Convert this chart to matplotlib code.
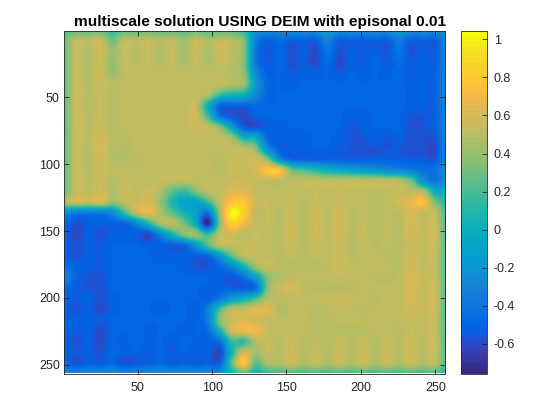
import numpy as np
import matplotlib
matplotlib.use('Agg')
import matplotlib.pyplot as plt
from matplotlib.colors import ListedColormap

plt.rcParams['font.family'] = ['Liberation Sans', 'DejaVu Sans']

titulo = 'multiscale solution USING DEIM with episonal 0.01'
ticks_eixos = [50, 100, 150, 200, 250]
ticks_barra = [-0.6, -0.4, -0.2, 0, 0.2, 0.4, 0.6, 0.8, 1]
ticks_barra_txt = ['-0.6', '-0.4', '-0.2', '0', '0.2', '0.4', '0.6', '0.8', '1']
vmin = -0.756
vmax = 1.044

# posicoes das amostras, de 8 em 8
xs = np.arange(1, 258, 8)
ys = np.arange(1, 258, 8)

# valores, em centesimos
solucao = np.array([
    [25,28,28,28,18,28,28,28,28,28,28,28,28,28,25,15,-22,-27,-27,-27,-27,-27,-15,-27,-27,-27,-27,-27,-15,-27,-27,-27,-27],
    [30,54,50,58,30,52,50,56,48,54,42,56,46,54,50,35,-35,-52,-47,-54,-52,-54,-35,-54,-52,-54,-52,-54,-38,-54,-52,-54,-30],
    [30,54,47,58,42,54,48,54,46,54,42,56,46,56,50,35,-38,-56,-48,-58,-52,-60,-42,-56,-52,-54,-52,-56,-42,-56,-52,-54,-30],
    [30,54,47,56,38,54,50,54,48,54,46,54,46,54,50,35,-38,-54,-48,-58,-54,-60,-47,-60,-52,-54,-48,-54,-46,-54,-52,-54,-30],
    [30,54,48,56,42,52,52,52,52,52,52,52,52,52,47,38,-25,-52,-50,-54,-52,-52,-50,-54,-50,-52,-50,-52,-48,-54,-50,-52,-30],
    [30,54,48,56,50,52,52,52,52,52,52,52,52,52,46,40,-15,-48,-50,-52,-50,-50,-50,-50,-50,-50,-50,-50,-48,-52,-52,-52,-30],
    [30,54,50,54,50,52,52,52,52,52,52,52,47,15,5,0,-28,-50,-50,-50,-50,-50,-50,-50,-50,-50,-50,-50,-48,-52,-52,-52,-30],
    [30,54,48,54,50,52,52,52,52,52,52,54,0,-47,-50,-50,-47,-50,-50,-50,-50,-50,-50,-50,-50,-50,-50,-50,-48,-52,-52,-52,-30],
    [30,54,50,54,50,52,52,52,52,54,54,58,20,-37,-54,-60,-52,-50,-50,-50,-50,-50,-50,-50,-52,-52,-50,-50,-50,-56,-56,-52,-30],
    [30,54,50,56,48,52,52,52,52,52,52,56,52,35,-10,-52,-58,-52,-52,-50,-50,-50,-50,-50,-56,-52,-50,-50,-50,-58,-56,-52,-30],
    [28,54,50,58,50,50,52,52,52,52,52,54,52,52,42,5,0,-47,-52,-52,-52,-50,-50,-52,-56,-56,-52,-56,-52,-58,-58,-56,-30],
    [28,54,50,60,50,48,52,52,52,52,52,52,52,52,54,52,35,-27,-52,-52,-52,-50,-50,-54,-56,-56,-56,-56,-56,-58,-58,-60,-30],
    [28,54,48,58,48,48,50,52,52,52,52,52,52,50,54,54,58,35,-25,-47,-50,-50,-50,-50,-52,-52,-52,-52,-52,-54,-54,-56,-30],
    [28,54,50,56,52,52,52,52,52,52,52,52,52,50,56,54,60,78,75,30,20,10,0,-5,-10,-15,-20,-25,-30,-35,-42,-42,-25],
    [28,54,50,56,48,54,52,52,54,52,52,52,52,52,56,58,54,54,52,50,52,52,50,52,52,52,52,50,47,30,-20,-42,-25],
    [30,54,52,58,47,56,52,58,47,25,15,35,52,54,64,64,54,52,52,54,52,54,52,54,52,52,50,52,54,52,47,0,0],
    [47,56,52,58,40,52,56,60,42,10,-8,-8,15,52,78,78,58,54,52,54,50,54,52,54,52,52,50,52,58,66,76,35,10],
    [-25,-37,-37,-37,-25,15,52,66,47,25,5,-10,-40,42,102,85,52,54,50,56,48,58,50,58,50,52,48,52,50,60,54,52,20],
    [-47,-58,-52,-52,-52,-50,-30,5,42,52,30,-5,-74,35,85,70,54,54,50,58,48,58,50,58,50,54,48,52,50,60,54,56,20],
    [-52,-60,-52,-58,-52,-52,-52,-60,-30,5,35,42,15,52,58,52,54,52,50,58,48,58,52,58,50,54,48,52,50,58,52,58,20],
    [-52,-58,-52,-54,-50,-50,-50,-52,-52,-52,-47,-15,25,50,52,54,54,52,50,56,48,56,52,56,50,54,50,52,50,54,52,56,22],
    [-52,-58,-52,-54,-50,-50,-50,-50,-52,-52,-52,-52,-47,-15,25,52,52,52,50,52,50,52,52,56,50,52,52,50,50,58,52,54,22],
    [-42,-52,-52,-54,-50,-50,-50,-50,-50,-50,-52,-56,-56,-47,-30,5,42,54,50,50,50,50,52,56,52,52,52,52,50,58,52,52,22],
    [-30,-52,-56,-58,-50,-50,-50,-50,-50,-50,-50,-50,-50,-52,-56,-42,-10,35,47,52,52,52,52,54,52,52,50,50,52,60,56,54,22],
    [-47,-54,-56,-58,-50,-50,-50,-50,-50,-50,-50,-50,-52,-52,-52,-52,-45,35,54,60,52,50,50,50,50,52,52,52,52,60,54,56,22],
    [-50,-54,-50,-58,-52,-50,-50,-50,-50,-50,-50,-50,-52,-37,-15,0,20,47,50,52,52,52,54,56,54,52,50,52,52,60,54,56,22],
    [-52,-58,-52,-60,-52,-50,-50,-50,-52,-50,-50,-52,-35,20,52,52,64,64,47,52,52,50,52,54,52,50,52,52,52,58,54,56,22],
    [-50,-52,-50,-54,-50,-50,-50,-50,-50,-50,-50,-52,-35,35,54,62,58,54,52,52,52,50,50,52,52,52,52,52,52,54,52,54,22],
    [-50,-54,-52,-60,-50,-50,-48,-52,-50,-50,-52,-50,-45,5,58,68,70,54,52,52,52,50,50,50,50,50,52,52,50,54,52,54,22],
    [-52,-58,-52,-60,-50,-52,-48,-52,-50,-54,-48,-52,-52,-42,15,15,47,54,50,56,50,52,48,54,50,54,48,54,50,56,50,56,22],
    [-50,-54,-52,-58,-48,-52,-50,-54,-48,-54,-50,-54,-50,-60,5,58,42,54,48,58,48,54,48,56,48,56,48,56,48,58,48,54,22],
    [-50,-58,-50,-54,-48,-58,-54,-52,-48,-54,-52,-54,-52,-52,25,78,25,47,46,56,46,54,46,54,46,56,46,54,46,56,46,52,20],
    [-28,-30,-28,-28,-25,-30,-28,-28,-25,-28,-25,-28,-25,-25,5,25,5,15,20,22,20,22,20,22,20,22,20,22,20,22,20,22,12],
]) / 100.0

# parula
parula = ListedColormap([
    [0.2081,0.1663,0.5292],[0.2116,0.1898,0.5777],[0.2123,0.2138,0.6270],[0.2081,0.2386,0.6771],
    [0.1959,0.2645,0.7279],[0.1707,0.2919,0.7792],[0.1253,0.3242,0.8303],[0.0591,0.3598,0.8683],
    [0.0117,0.3875,0.8820],[0.0060,0.4086,0.8828],[0.0165,0.4266,0.8786],[0.0329,0.4430,0.8720],
    [0.0498,0.4586,0.8641],[0.0629,0.4737,0.8554],[0.0723,0.4887,0.8467],[0.0779,0.5040,0.8384],
    [0.0793,0.5200,0.8312],[0.0749,0.5375,0.8263],[0.0641,0.5570,0.8240],[0.0488,0.5772,0.8228],
    [0.0343,0.5966,0.8199],[0.0265,0.6137,0.8135],[0.0239,0.6287,0.8038],[0.0231,0.6418,0.7913],
    [0.0228,0.6535,0.7768],[0.0267,0.6642,0.7607],[0.0384,0.6743,0.7436],[0.0590,0.6838,0.7254],
    [0.0843,0.6928,0.7062],[0.1133,0.7015,0.6859],[0.1453,0.7098,0.6646],[0.1801,0.7177,0.6424],
    [0.2178,0.7250,0.6193],[0.2586,0.7317,0.5954],[0.3022,0.7376,0.5712],[0.3482,0.7424,0.5473],
    [0.3953,0.7459,0.5244],[0.4420,0.7481,0.5033],[0.4871,0.7491,0.4840],[0.5300,0.7491,0.4661],
    [0.5709,0.7485,0.4494],[0.6099,0.7473,0.4337],[0.6473,0.7456,0.4188],[0.6834,0.7435,0.4044],
    [0.7184,0.7411,0.3905],[0.7525,0.7384,0.3768],[0.7858,0.7356,0.3633],[0.8185,0.7327,0.3498],
    [0.8507,0.7299,0.3360],[0.8824,0.7274,0.3217],[0.9139,0.7258,0.3063],[0.9450,0.7261,0.2886],
    [0.9739,0.7314,0.2666],[0.9938,0.7455,0.2403],[0.9990,0.7653,0.2164],[0.9955,0.7861,0.1967],
    [0.9880,0.8066,0.1794],[0.9789,0.8271,0.1633],[0.9697,0.8481,0.1475],[0.9626,0.8705,0.1309],
    [0.9589,0.8949,0.1132],[0.9598,0.9218,0.0948],[0.9661,0.9514,0.0755],[0.9763,0.9831,0.0538],
])

cinza = '#262626'
W, H = 560.0, 420.0

fig = plt.figure(figsize=(5.6, 4.2), dpi=100)
ax = fig.add_axes([64/W, 1-373.5/H, 381/W, 342.5/H])
cax = fig.add_axes([461/W, 1-373.5/H, 26/W, 342.5/H])

im = ax.imshow(solucao, cmap=parula, vmin=vmin, vmax=vmax, aspect='auto', interpolation='catrom',
               extent=(xs[0]-4, xs[-1]+4, ys[-1]+4, ys[0]-4))
ax.set_xlim(0.5, 256.5)
ax.set_ylim(256.5, 0.5)
ax.set_xticks(ticks_eixos)
ax.set_yticks(ticks_eixos)
ax.tick_params(direction='in', top=True, right=True, length=3.5, width=0.6, color=cinza,
               labelcolor=cinza, labelsize=9, pad=3)
ax.tick_params(axis='x', pad=6)
for s in ax.spines.values():
    s.set_linewidth(0.6)
    s.set_color(cinza)
ax.set_title(titulo, fontsize=11.1, fontweight='bold', color='black', pad=3.5, x=(260-64)/381)

cb = fig.colorbar(im, cax=cax, ticks=ticks_barra)
cb.ax.set_yticklabels(ticks_barra_txt)
cb.ax.tick_params(direction='in', length=3.5, width=0.6, color=cinza, labelcolor=cinza, labelsize=9, pad=5)
cb.outline.set_linewidth(0.6)
cb.outline.set_edgecolor(cinza)

fig.savefig('out.png', dpi=100)
